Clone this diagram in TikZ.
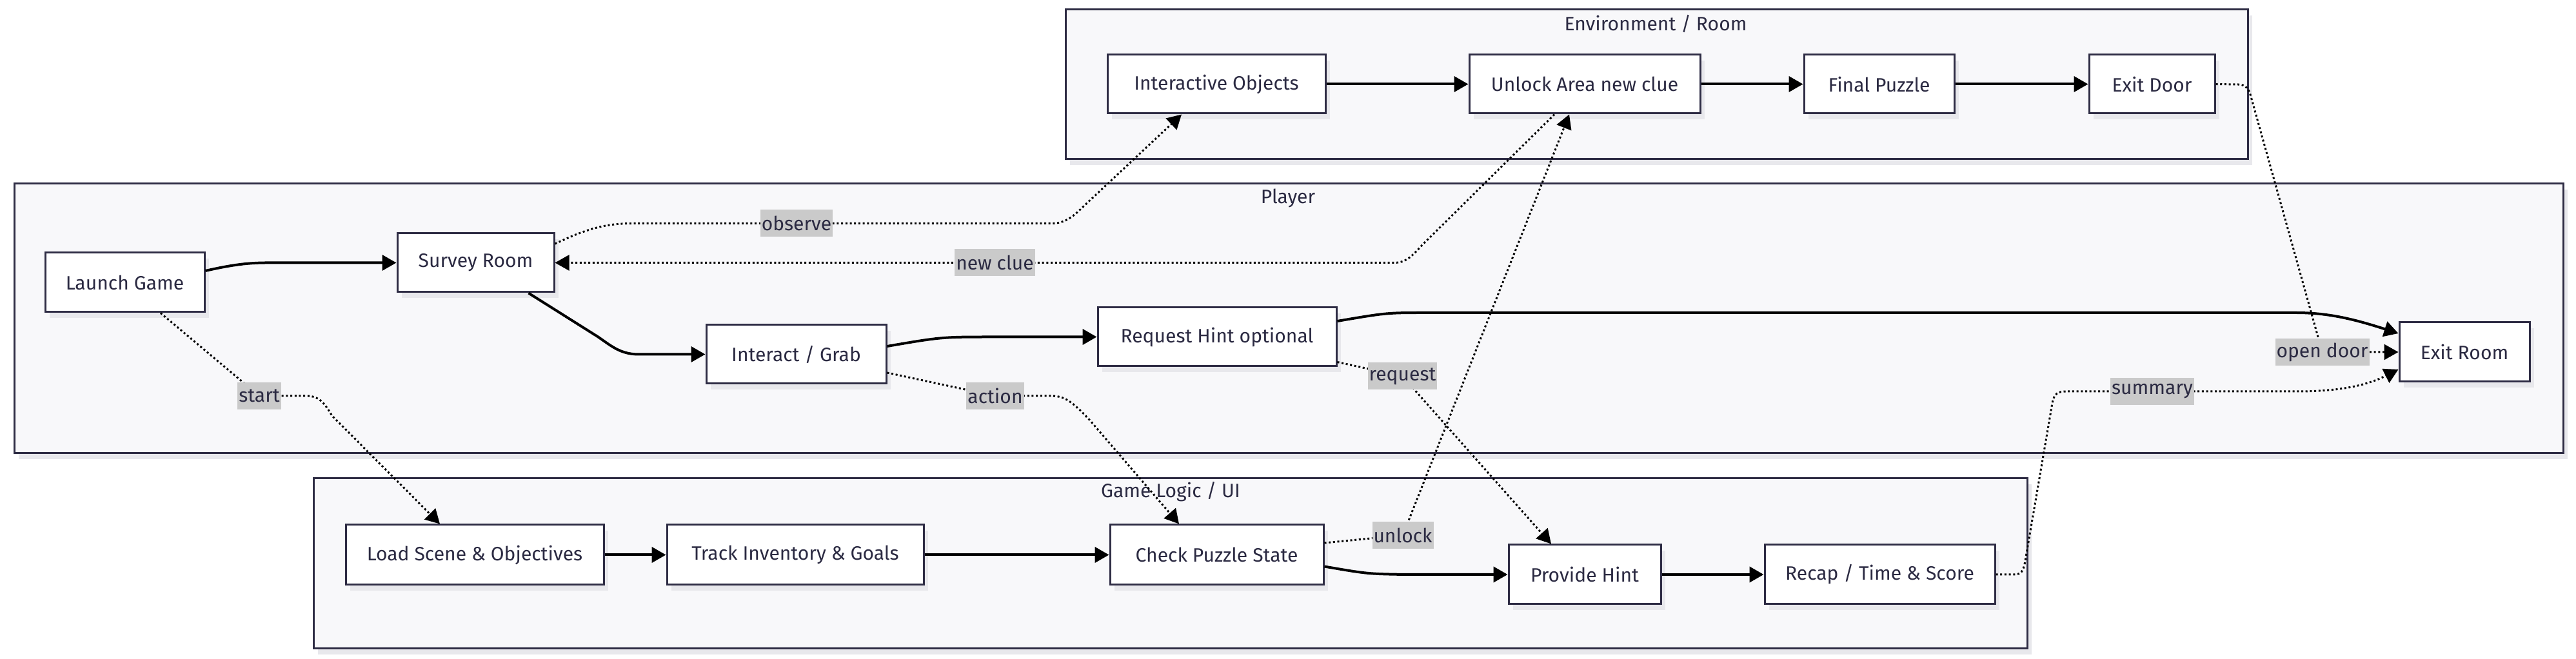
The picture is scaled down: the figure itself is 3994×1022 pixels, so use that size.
\documentclass[tikz,border=0pt]{standalone}
\usepackage{fontspec}
\setmainfont{Fira Sans}
\usetikzlibrary{arrows.meta,shadows}
\definecolor{clfill}{HTML}{F8F8FA}
\definecolor{clborder}{HTML}{2E2C44}
\definecolor{txt}{HTML}{2B2A42}
\definecolor{shd}{HTML}{E8E8EC}
\definecolor{labbg}{HTML}{CACACA}
\begin{document}
\begin{tikzpicture}[x=0.1mm,y=-0.1mm,
  every node/.style={font=\fontsize{8.55}{10}\selectfont, text=txt},
  box/.style={draw=clborder, line width=0.3mm, fill=white, minimum height=9.1mm, inner sep=0pt,
    general shadow={fill=shd, shadow xshift=0.7mm, shadow yshift=-0.9mm}},
  cluster/.style={draw=clborder, line width=0.3mm, fill=clfill, inner sep=0pt,
    general shadow={fill=shd, shadow xshift=0.7mm, shadow yshift=-0.9mm}},
  ctitle/.style={inner sep=0pt},
  lab/.style={fill=labbg, inner xsep=0.2mm, inner ysep=0pt, minimum height=4.2mm},
  edge/.style={line width=0.4mm, -{Triangle[length=2.2mm,width=2.4mm]}},
  dedge/.style={line width=0.3mm, dash pattern=on 0.3mm off 0.37mm, -{Triangle[length=2.2mm,width=2.4mm]}},
]
\useasboundingbox (0,0) rectangle (3994,1022);
\fill[white] (0,0) rectangle (3994,1022);

% clusters
\node[cluster, minimum width=183.3mm, minimum height=23.2mm] (env) at (2568.5,131) {};
\node[cluster, minimum width=395.2mm, minimum height=41.8mm] (player) at (1998,494) {};
\node[cluster, minimum width=265.7mm, minimum height=26.4mm] (game) at (1814.5,874) {};
\node[ctitle] (envt) at (2567,37) {Environment / Room};
\node[ctitle] (playert) at (1997,307) {Player};
\node[ctitle] (gamet) at (1815,763) {Game Logic / UI};

% environment nodes
\node[box, minimum width=33.8mm] (io) at (1886,130.5) {Interactive Objects};
\node[box, minimum width=35.8mm] (ua) at (2457,130.5) {Unlock Area new clue};
\node[box, minimum width=23.3mm] (fp) at (2913.5,130.5) {Final Puzzle};
\node[box, minimum width=19.5mm] (ed) at (3336.5,130.5) {Exit Door};
% player nodes
\node[box, minimum width=24.7mm, minimum height=9.2mm] (lg) at (193.5,438) {Launch Game};
\node[box, minimum width=24.3mm] (sr) at (737.5,407.5) {Survey Room};
\node[box, minimum width=27.9mm] (ig) at (1234.5,549.5) {Interact / Grab};
\node[box, minimum width=37mm] (rh) at (1887,522.5) {Request Hint optional};
\node[box, minimum width=20.2mm, minimum height=9.2mm] (er) at (3821,546) {Exit Room};
% game logic nodes
\node[box, minimum width=40mm, minimum height=9.3mm] (ls) at (736,860.5) {Load Scene \& Objectives};
\node[box, minimum width=39.8mm, minimum height=9.3mm] (ti) at (1233,860.5) {Track Inventory \& Goals};
\node[box, minimum width=33.1mm, minimum height=9.3mm] (cp) at (1886.5,860.5) {Check Puzzle State};
\node[box, minimum width=23.6mm, minimum height=9.2mm] (ph) at (2457,891) {Provide Hint};
\node[box, minimum width=35.7mm, minimum height=9.2mm] (rc) at (2914.5,891) {Recap / Time \& Score};

% solid edges
\draw[edge] ([yshift=1.8mm]lg.east) .. controls (380,406) and (400,407.5) .. (440,407.5) -- (sr.west);
\draw[edge] ([xshift=8.2mm]sr.south) -- (925,521) .. controls (945,534) and (960,549.5) .. (990,549.5) -- (ig.west);
\draw[edge] ([yshift=1.25mm]ig.east) .. controls (1460,522.5) .. (1540,522.5) -- (rh.west);
\draw[edge] ([yshift=2.45mm]rh.east) .. controls (2150,485) .. (2210,485) -- (3560,485)
  .. controls (3610,485) and (3650,495) .. ([yshift=2.9mm]er.west);
\draw[edge] (io) -- (ua);
\draw[edge] (ua) -- (fp);
\draw[edge] (fp) -- (ed);
\draw[edge] (ls) -- (ti);
\draw[edge] (ti) -- (cp);
\draw[edge] ([yshift=-1.8mm]cp.east) .. controls (2120,890) .. (2180,891) -- (ph.west);
\draw[edge] (ph) -- (rc);

% dotted edges with labels
\draw[dedge] ([yshift=2.95mm]sr.east) .. controls (900,360) and (930,346.5) .. (980,346.5)
  -- node[lab] (lobs) {observe} (1490,346.5) -- (1630,346.5)
  .. controls (1650,346.5) and (1662,338) .. (1680,320) -- ([xshift=-5.4mm]io.south);
\draw[dedge] ([xshift=-4.7mm]ua.south) -- (2205,380) .. controls (2185,402) and (2178,407.5) .. (2160,407.5)
  -- node[lab] (lnew) {new clue} (925,407.5) -- (sr.east);
\draw[dedge] ([yshift=1.85mm]cp.east) -- (2175,830) node[lab] (lunl) {unlock} -- ([xshift=-2.4mm]ua.south);
\draw[dedge] ([yshift=-2.85mm]ig.east) -- (1543,614) node[lab] (lact) {action} -- (1630,614)
  .. controls (1650,614) and (1662,622) .. (1690,652) -- ([xshift=-5.85mm]cp.north);
\draw[dedge] ([xshift=5.55mm]lg.south) -- (402,614) node[lab] (lsta) {start} -- (475,614)
  .. controls (495,614) and (503,625) .. (515,645) -- ([xshift=-5.4mm]ls.north);
\draw[dedge] ([yshift=-3.9mm]rh.east) -- (2174.5,583.5) node[lab] (lreq) {request} -- ([xshift=-5.2mm]ph.north);
\draw[dedge] (rc.east) -- (3122,891) .. controls (3135,891) and (3137,885) .. (3140,870)
  -- (3182,625) .. controls (3185,610) and (3190,607) .. (3205,607)
  -- (3337,607) node[lab] (lsum) {summary} -- (3560,607)
  .. controls (3620,607) and (3665,600) .. ([yshift=-2.7mm]er.west);
\draw[dedge] (ed.east) -- (3470,131) .. controls (3482,131) and (3487,138) .. (3490,150)
  -- (3600.5,546) node[lab] (lopen) {open door} -- (er.west);
\end{tikzpicture}
\end{document}
